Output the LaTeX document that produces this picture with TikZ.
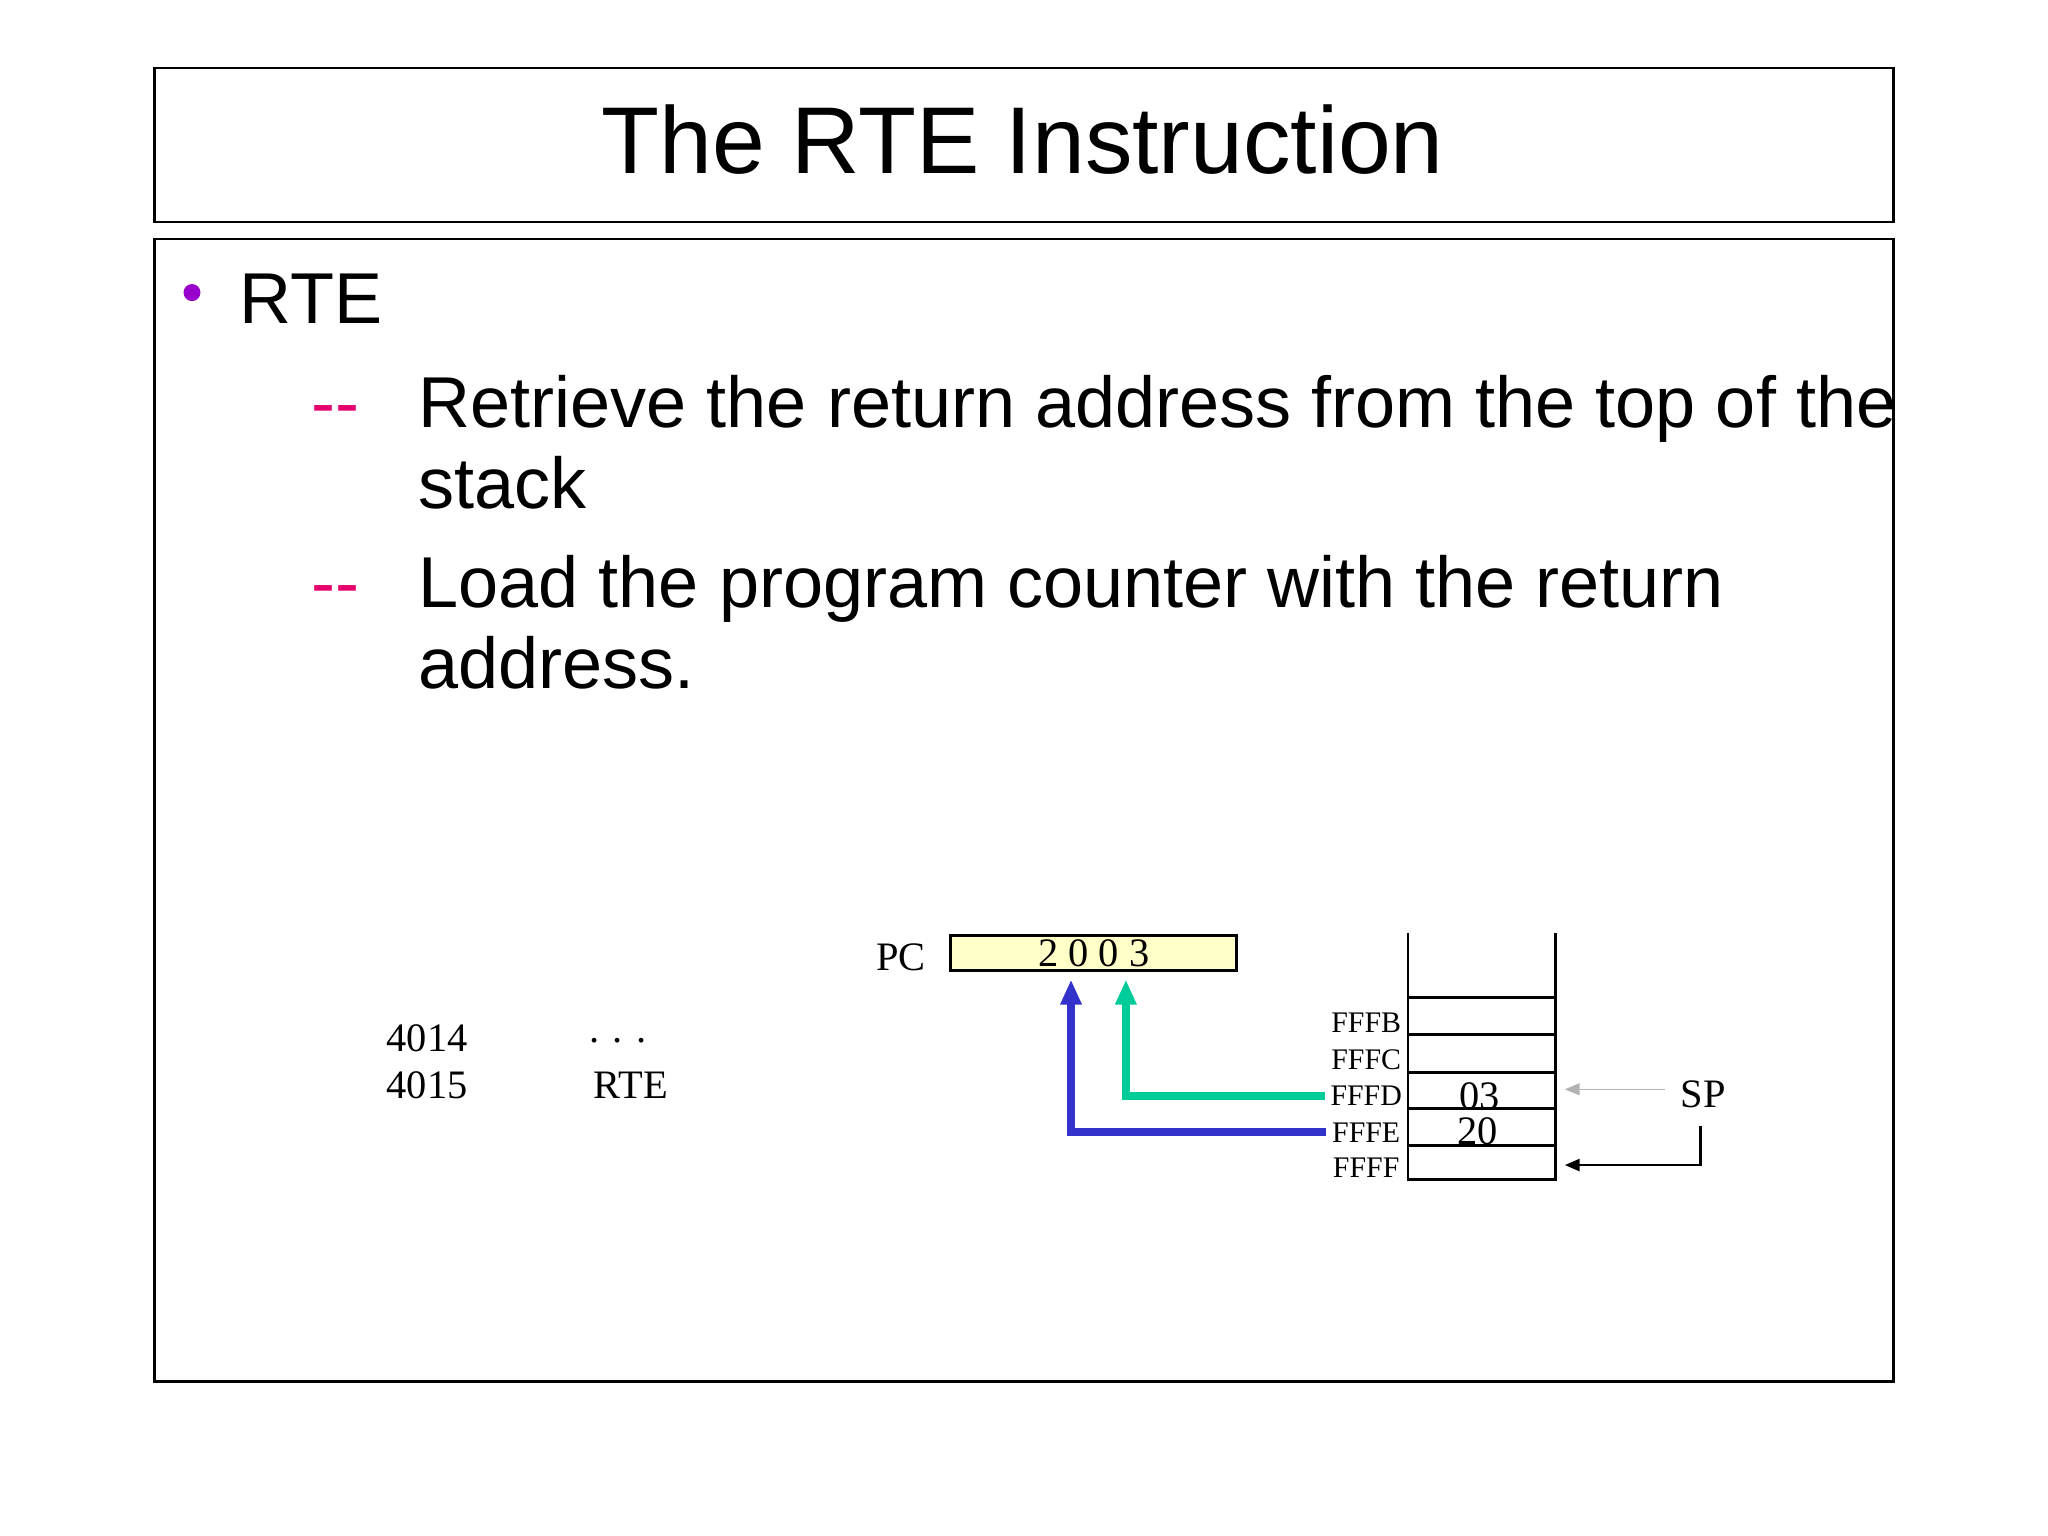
\documentclass[tikz,border=0pt]{standalone}
\usepackage{fontspec}
\setmainfont{Liberation Serif}
\newfontfamily\slidefont{Liberation Sans}
\usetikzlibrary{arrows.meta}
\definecolor{pcfill}{RGB}{255,255,200}
\definecolor{bulletpurple}{RGB}{153,0,204}
\definecolor{dashpink}{RGB}{230,0,110}
\definecolor{popgreen}{RGB}{0,204,153}
\definecolor{popblue}{RGB}{51,51,204}
\tikzset{
   slidetext/.style={font=\slidefont\fontsize{20.5}{24}\selectfont, anchor=base west, inner sep=0pt},
   addr/.style={font=\fontsize{8.5}{10}\selectfont, inner sep=0pt},
   code/.style={font=\fontsize{11.5}{13}\selectfont, inner sep=0pt},
   pop/.style={line width=0.08cm, -{Triangle[length=0.25cm,width=0.2cm]}}
}
\begin{document}
\begin{tikzpicture}[x=0.01306cm,y=-0.01306cm]
\useasboundingbox (0,0) rectangle (1568,1176);
% frames
\draw[thick] (118,52) rectangle (1450,170);
\draw[thick] (118,183) rectangle (1450,1058);
\node[font=\slidefont\fontsize{27}{32}\selectfont] (title) at (783,107) {The RTE Instruction};
% bullets
\fill[bulletpurple] (147,224) circle (6.5);
\node[slidetext] (rte) at (183,248) {RTE};
\node[slidetext,text=dashpink] (d1) at (238,327) {--};
\node[slidetext] (l1) at (320,327) {Retrieve the return address from the top of the};
\node[slidetext] (l1b) at (320,389) {stack};
\node[slidetext,text=dashpink] (d2) at (238,465) {--};
\node[slidetext] (l2) at (320,465) {Load the program counter with the return};
\node[slidetext] (l2b) at (320,527) {address.};
% code
\node[code] (a1) at (327,795) {4014};
\node[code] (a2) at (327,831) {4015};
\node[code] (i1) at (473,797) {. . .};
\node[code] (i2) at (483,831) {RTE};
% PC register
\node[code] (pclbl) at (690,733) {PC};
\node[draw,thick,fill=pcfill,minimum width=219*0.01306cm,minimum height=27*0.01306cm,
      code,anchor=center] (pc) at (837.5,729.5) {2 0 0 3};
% stack
\draw[thick] (1078,714) -- (1078,903) -- (1191,903) -- (1191,714);
\foreach \y in {764,792,821,849,877}
  \draw[thick] (1078,\y) -- (1191,\y);
\foreach \lbl/\y in {FFFB/783,FFFC/811,FFFD/839,FFFE/867,FFFF/894}
  \node[addr] (m\lbl) at (1046,\y) {\lbl};
\node[code] (v03) at (1133,839) {03};
\node[code] (v20) at (1131,866) {20};
% SP
\node[code] (sp) at (1304,838) {SP};
\coordinate (spold) at (1198,834);
\coordinate (spnew) at (1198,892);
\draw[gray!60,-{Triangle[length=0.15cm,width=0.12cm]}] (1275,834) -- (spold);
\draw[thick,-{Triangle[length=0.15cm,width=0.12cm]}] (1302,862) |- (spnew);
% pop to PC
\draw[pop,popgreen] (mFFFD.west) ++(-4,0) -| (862,750);
\draw[pop,popblue] (mFFFE.west) ++(-4,0) -| (820,750);
\end{tikzpicture}
\end{document}
